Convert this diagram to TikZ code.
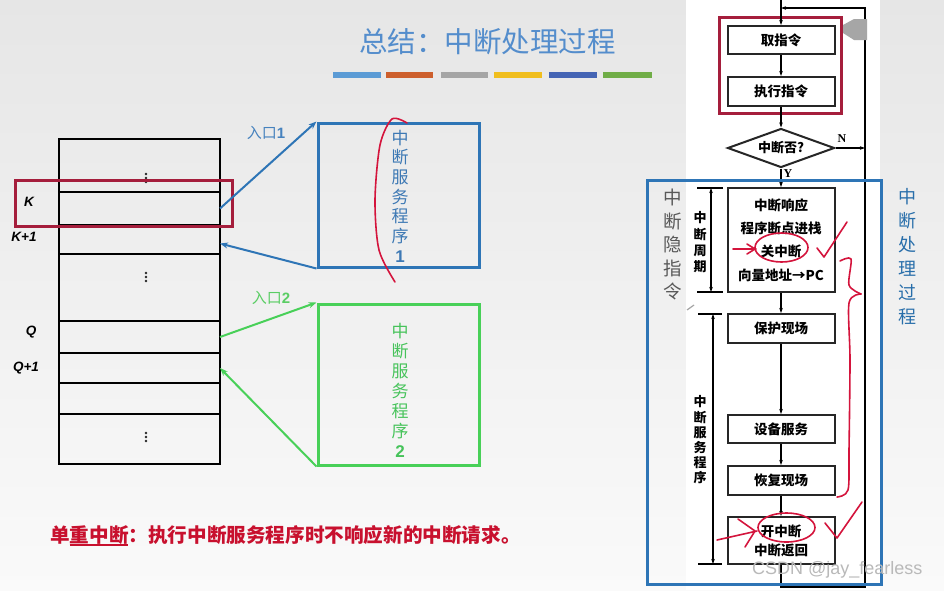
\documentclass[tikz,border=0pt]{standalone}
\usepackage{fontspec}
\newfontfamily\cjk{Noto Sans CJK SC}
\newfontfamily\lsans{Liberation Sans}
\newfontfamily\lserif{Liberation Serif}
\usetikzlibrary{shapes.geometric,arrows.meta}
\definecolor{bgA}{RGB}{230,230,230}
\definecolor{bgB}{RGB}{250,250,250}
\definecolor{bblue}{RGB}{46,117,182}
\definecolor{bgreen}{RGB}{72,208,88}
\definecolor{rred}{RGB}{165,30,60}
\definecolor{hred}{RGB}{212,20,60}
\definecolor{bred}{RGB}{200,16,46}
\definecolor{ttl}{RGB}{84,141,204}
\definecolor{labblue}{RGB}{70,130,190}
\definecolor{labgreen}{RGB}{90,205,100}
\definecolor{txblue}{RGB}{60,120,180}
\definecolor{txgreen}{RGB}{70,195,90}
\definecolor{rtblue}{RGB}{40,110,170}
\definecolor{cA}{RGB}{91,155,213}
\definecolor{cB}{RGB}{205,95,45}
\definecolor{cC}{RGB}{165,165,165}
\definecolor{cD}{RGB}{240,190,30}
\definecolor{cE}{RGB}{68,100,180}
\definecolor{cF}{RGB}{112,173,71}
\begin{document}
\begin{tikzpicture}[x=1pt,y=-1pt,
  cell/.style={draw=black, line width=2.2pt, minimum width=161pt, inner sep=0pt, outer sep=0pt},
  lab/.style={font=\lsans\bfseries\itshape\fontsize{13.5}{15}\selectfont},
  barrow/.style={line width=2pt, -{Stealth[length=8pt,width=6pt]}},
  fbox/.style={draw=black!85, line width=2pt, minimum width=107pt, inner sep=0pt, align=center,
    font=\cjk\bfseries\fontsize{13.5}{16}\selectfont},
  farrow/.style={line width=1.2pt, -{Stealth[length=5pt,width=3.5pt]}},
  fline/.style={line width=1.2pt},
  hand/.style={draw=hred, line width=1.6pt, line cap=round, line join=round},
  vtext/.style={align=center, inner sep=0pt}
]
\useasboundingbox (0,0) rectangle (944,590);
\shade[top color=bgA, bottom color=bgB] (0,0) rectangle (944,590);
\fill[white] (686,0) rectangle (880,590);

% title and colour bars
\node[font=\cjk\fontsize{28.5}{30}\selectfont, text=ttl] (title) at (487.5,42) {总结：中断处理过程};
\fill[cA] (333,72) rectangle (381,78);
\fill[cB] (386,72) rectangle (433,78);
\fill[cC] (441,72) rectangle (488,78);
\fill[cD] (494,72) rectangle (542,78);
\fill[cE] (549,72) rectangle (597,78);
\fill[cF] (603,72) rectangle (652,78);

% memory table
\node[cell, minimum height=53pt] (r0) at (139.5,165.5) {};
\node[cell, minimum height=33pt] (rK) at (139.5,208.5) {};
\node[cell, minimum height=29pt] (rK1) at (139.5,239.5) {};
\node[cell, minimum height=67pt] (r3) at (139.5,287.5) {};
\node[cell, minimum height=32pt] (rQ) at (139.5,337) {};
\node[cell, minimum height=30pt] (rQ1) at (139.5,368) {};
\node[cell, minimum height=31pt] (r6) at (139.5,398.5) {};
\node[cell, minimum height=50pt] (r7) at (139.5,439) {};
\foreach \yy in {174,178,182, 273,277,281, 433,437,441}
  \fill[black!85] (146,\yy) circle [radius=1.4];

\node[lab] (lK) at (29,202) {K};
\node[lab] (lK1) at (24,237) {K+1};
\node[lab] (lQ) at (31,332) {Q};
\node[lab] (lQ1) at (26,368) {Q+1};

\node[draw=rred, line width=3pt, minimum width=217pt, minimum height=46pt, inner sep=0pt] (sel) at (123.5,203) {};

% service routine boxes
\node[draw=bblue, line width=3pt, minimum width=161pt, minimum height=144pt, inner sep=0pt] (s1) at (398.5,195) {};
\node[vtext, text=txblue, font=\cjk\fontsize{17}{19.7}\selectfont] (s1t) at (400,196) {中\\断\\服\\务\\程\\序\\{\lsans\bfseries 1}};
\node[draw=bgreen, line width=3pt, minimum width=161pt, minimum height=161pt, inner sep=0pt] (s2) at (398.5,384.5) {};
\node[vtext, text=txgreen, font=\cjk\fontsize{17}{20}\selectfont] (s2t) at (400,390) {中\\断\\服\\务\\程\\序\\{\lsans\bfseries 2}};

\draw[barrow, bblue] (rK.east) -- (s1.north west);
\draw[barrow, bblue] (s1.south west) -- ([yshift=-4pt]rK1.east);
\draw[barrow, bgreen] (rQ.east) -- (s2.north west);
\draw[barrow, bgreen] (s2.south west) -- (rQ1.east);
\node[text=labblue, font=\cjk\fontsize{15}{16}\selectfont] (e1) at (266,133) {入口\lsans\bfseries 1};
\node[text=labgreen, font=\cjk\fontsize{15}{16}\selectfont] (e2) at (271,298) {入口\lsans\bfseries 2};

\draw[hand] plot[smooth] coordinates {(407,123) (392,119) (380,145) (375,200) (379,250) (395,282)};

% note
\node[anchor=west, inner sep=0pt, text=bred, font=\cjk\bfseries\fontsize{19.6}{21}\selectfont] (note) at (50,535) {单重中断：执行中断服务程序时不响应新的中断请求。};
\draw[bred, line width=1.5pt] (69.6,545) -- (128,545);

% flowchart
\node[fbox, minimum height=28pt] (qu) at (781,40) {取指令};
\node[fbox, minimum height=29pt] (zx) at (781,91.5) {执行指令};
\node[draw=rred, line width=3pt, minimum width=122pt, minimum height=96pt, inner sep=0pt] (selb) at (780,65) {};
\node[draw=black!85, line width=2pt, diamond, aspect=2.7, minimum width=107pt, minimum height=39pt, inner sep=0pt,
  font=\cjk\bfseries\fontsize{13}{15}\selectfont] (dia) at (781,148) {中断否?};
\node[fbox, minimum height=104pt, font=\cjk\bfseries\fontsize{13.5}{23.3}\selectfont] (xy) at (781,240) {中断响应\\程序断点进栈\\关中断\\向量地址→PC};
\node[fbox, minimum height=29pt] (bh) at (781,328.5) {保护现场};
\node[fbox, minimum height=28pt] (sb) at (781,429) {设备服务};
\node[fbox, minimum height=29pt] (hf) at (781,480.5) {恢复现场};
\node[fbox, minimum height=47pt, font=\cjk\bfseries\fontsize{13.5}{19}\selectfont] (kz) at (781,540.5) {开中断\\中断返回};

\coordinate (top) at (781,0);
\coordinate (lt) at (781,8);
\coordinate (rt) at (865,8);
\coordinate (rb) at (865,587);
\coordinate (nj) at (865,148);

\draw[farrow] (top) -- (qu.north);
\draw[farrow] (qu) -- (zx);
\draw[farrow] (zx) -- (dia);
\draw[farrow] (dia) -- (xy);
\draw[farrow] (dia.east) -- (nj);
\draw[farrow] (xy) -- (bh);
\draw[farrow] (bh) -- (sb);
\draw[farrow] (sb) -- (hf);
\draw[farrow] (hf) -- (kz);
\draw[farrow] (kz.south) |- (rb) -- (rt) -- (lt);
\node[font=\lserif\bfseries\fontsize{12}{13}\selectfont] (N) at (842,139) {N};
\node[font=\lserif\bfseries\fontsize{12}{13}\selectfont] (Y) at (788,174) {Y};

\fill[gray!70] (843,25) -- (854,19) -- (867,19) -- (867,40) -- (854,40) -- (843,33) -- cycle;

% interval markers
\coordinate (i1t) at (711,188);
\coordinate (i1b) at (711,292);
\coordinate (i2t) at (713,314);
\coordinate (i2b) at (713,564);
\draw[fline] (697,188) -- (723,188);
\draw[fline] (697,292) -- (723,292);
\draw[fline] (698,314) -- (722,314);
\draw[fline] (698,564) -- (722,564);
\draw[line width=1.1pt, {Stealth[length=5pt,width=3.5pt]}-{Stealth[length=5pt,width=3.5pt]}] (i1t) -- (i1b);
\draw[line width=1.1pt, {Stealth[length=5pt,width=3.5pt]}-{Stealth[length=5pt,width=3.5pt]}] (i2t) -- (i2b);
\node[vtext, font=\cjk\bfseries\fontsize{13}{16.3}\selectfont] (zq) at (700,242.5) {中\\断\\周\\期};
\node[vtext, font=\cjk\bfseries\fontsize{13}{15.2}\selectfont] (zf) at (700,440) {中\\断\\服\\务\\程\\序};
\draw[gray!70, line width=1.2pt] (687,310) -- (694,305);

% blue frame and side texts
\node[draw=bblue, line width=3pt, minimum width=234pt, minimum height=404pt, inner sep=0pt] (frame) at (764,382) {};
\node[vtext, text=black!65, font=\cjk\fontsize{18.5}{23.5}\selectfont] (yin) at (673,245) {中\\断\\隐\\指\\令};
\node[vtext, text=rtblue, font=\cjk\fontsize{18}{24}\selectfont] (proc) at (907,257) {中\\断\\处\\理\\过\\程};

% red hand annotations
\draw[hand] (781.5,247.5) ellipse [x radius=26.5, y radius=14.5];
\draw[hand] (733,249) -- (756,249);
\draw[hand] (747,244) -- (755,249) -- (747,254);
\draw[hand] (817,248) -- (824,257) -- (847,222);
\draw[hand] plot[smooth] coordinates {(840,261) (851,259) (849,285) (861,294)};
\draw[hand] plot[smooth] coordinates {(861,294) (849,303) (850,360) (849,450) (848,490) (837,497)};
\draw[hand] (786.5,527.5) ellipse [x radius=28.5, y radius=14.5];
\draw[hand] (717,540) -- (757,531);
\draw[hand] (738,519) -- (755,531) -- (745,547);
\draw[hand] (825,523) -- (837,538) -- (862,502);

% watermark
\node[anchor=west, text=gray!55, font=\lsans\fontsize{18}{20}\selectfont, inner sep=0pt] (wm) at (752,570) {CSDN @jay\_fearless};
\end{tikzpicture}
\end{document}
